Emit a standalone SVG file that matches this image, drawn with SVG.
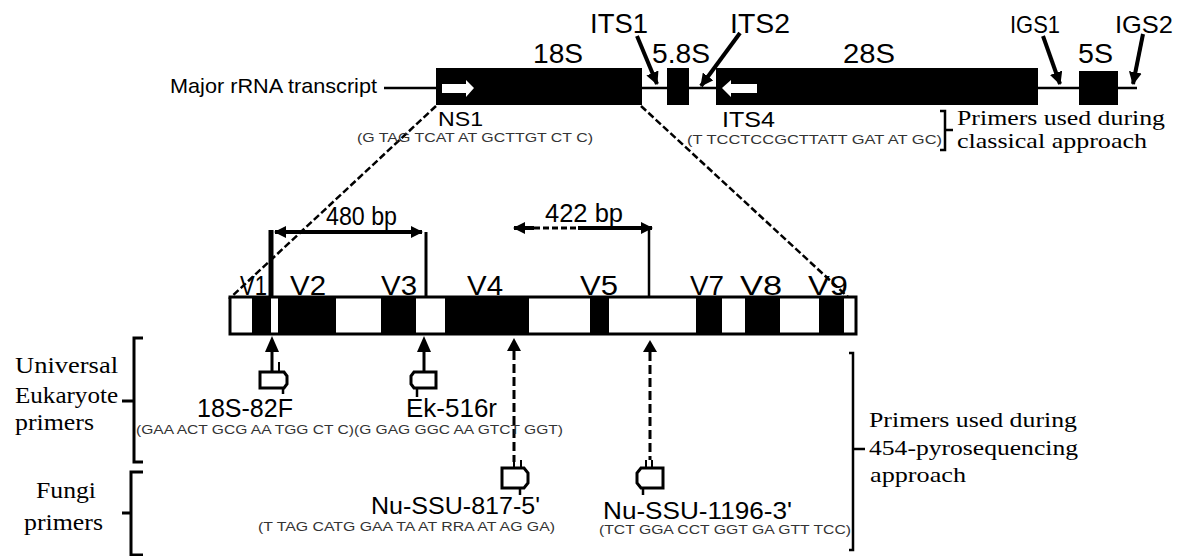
<svg xmlns="http://www.w3.org/2000/svg" width="1179" height="556" viewBox="0 0 1179 556">
<style>
.sans{font-family:"Liberation Sans",Arial,sans-serif;fill:#000}
.serif{font-family:"Liberation Serif","Times New Roman",serif;fill:#000}
.seq{font-family:"Liberation Sans",Arial,sans-serif;fill:#333;font-size:12px}
.ln{stroke:#000;fill:none}
.thick{stroke:#000;stroke-width:4;fill:none}
.dash{stroke:#000;stroke-width:3;fill:none;stroke-dasharray:9 4}
.diag{stroke:#000;stroke-width:2.5;fill:none;stroke-dasharray:7 3}
.blk{fill:#000}
.wh{fill:#fff}
.tag{fill:#fff;stroke:#000;stroke-width:3}
</style>
<defs>
<marker id="ah" viewBox="0 0 12 12" refX="11" refY="6" markerWidth="13" markerHeight="13" markerUnits="userSpaceOnUse" orient="auto">
<path d="M0,0 L12,6 L0,12 z" fill="#000"/>
</marker>
<marker id="ah2" viewBox="0 0 12 12" refX="11" refY="6" markerWidth="12" markerHeight="12" markerUnits="userSpaceOnUse" orient="auto-start-reverse">
<path d="M0,0 L12,6 L0,12 z" fill="#000"/>
</marker>
</defs>
<rect width="1179" height="556" fill="#fff"/>

<!-- connectors -->
<g id="connectors">
<line class="ln" x1="384" y1="88" x2="1137" y2="88" stroke-width="2.5"/>
<line class="thick" x1="637" y1="36" x2="657" y2="84" marker-end="url(#ah)"/>
<line class="thick" x1="740" y1="33" x2="701" y2="86" marker-end="url(#ah)"/>
<line class="thick" x1="1043" y1="36" x2="1060" y2="84" marker-end="url(#ah)"/>
<line class="thick" x1="1143" y1="34" x2="1133" y2="84" marker-end="url(#ah)"/>
<line class="diag" x1="436" y1="106" x2="229" y2="299"/>
<line class="diag" x1="641" y1="106" x2="848" y2="297"/>
<line class="thick" x1="275" y1="232" x2="422" y2="232" marker-start="url(#ah2)" marker-end="url(#ah2)"/>
<line class="ln" x1="271" y1="230" x2="271" y2="299" stroke-width="5"/>
<line class="ln" x1="426" y1="232" x2="426" y2="303" stroke-width="3"/>
<line class="ln" x1="514" y1="228" x2="534" y2="228" stroke-width="4" marker-start="url(#ah2)"/>
<line class="ln" x1="534" y1="228" x2="578" y2="228" stroke-width="3" stroke-dasharray="6 3"/>
<line class="ln" x1="578" y1="228" x2="652" y2="228" stroke-width="4" marker-end="url(#ah2)"/>
<line class="ln" x1="649" y1="230" x2="649" y2="303" stroke-width="2.5"/>
<!-- upward primer arrows -->
<path class="blk" d="M272,336 L279,352 L265,352 z"/>
<line class="ln" x1="272" y1="352" x2="272" y2="372" stroke-width="3"/>
<line class="ln" x1="279" y1="362" x2="279" y2="372" stroke-width="2"/>
<path class="blk" d="M424,336 L431,352 L417,352 z"/>
<line class="ln" x1="424" y1="352" x2="424" y2="372" stroke-width="3"/>
<path class="blk" d="M514,338 L521,351 L507,351 z"/>
<line class="dash" x1="514" y1="351" x2="514" y2="462"/>
<line class="ln" x1="514" y1="460" x2="514" y2="467" stroke-width="2"/>
<line class="ln" x1="521" y1="460" x2="521" y2="467" stroke-width="2"/>
<path class="blk" d="M650,340 L657,352 L643,352 z"/>
<line class="dash" x1="650" y1="352" x2="650" y2="460"/>
<line class="ln" x1="646" y1="460" x2="646" y2="467" stroke-width="2"/>
<line class="ln" x1="652" y1="460" x2="652" y2="467" stroke-width="2"/>
<!-- brackets -->
<path class="ln" stroke-width="2.5" d="M940,111 H945 V150 H940 M945,130 H953"/>
<path class="ln" stroke-width="3" d="M143,338 H134 V462 H143 M134,401 H122"/>
<path class="ln" stroke-width="3" d="M143,472 H131 V555 H143 M131,513 H122"/>
<path class="ln" stroke-width="2.5" d="M849,353 H853 V550 H849 M853,449 H865"/>
</g>

<!-- major transcript -->
<g id="major-transcript">
<text class="sans" x="170" y="93" font-size="21" textLength="207" lengthAdjust="spacingAndGlyphs">Major rRNA transcript</text>
</g>
<g id="n18S">
<rect class="blk" x="436" y="68" width="206" height="37"/>
<path class="wh" d="M442,84 H466 V80 L474,88 L466,97 V93 H442 z"/>
<text class="sans" x="533" y="63" font-size="28" textLength="50" lengthAdjust="spacingAndGlyphs">18S</text>
</g>
<g id="n58S">
<rect class="blk" x="667" y="68" width="22" height="37"/>
<text class="sans" x="652" y="63" font-size="28" textLength="58" lengthAdjust="spacingAndGlyphs">5.8S</text>
</g>
<g id="n28S">
<rect class="blk" x="716" y="68" width="322" height="37"/>
<path class="wh" d="M757,84 H731 V80 L722,88 L731,97 V93 H757 z"/>
<text class="sans" x="843" y="63" font-size="28" textLength="52" lengthAdjust="spacingAndGlyphs">28S</text>
</g>
<g id="n5S">
<rect class="blk" x="1079" y="71" width="39" height="34"/>
<text class="sans" x="1078" y="63" font-size="27" textLength="35" lengthAdjust="spacingAndGlyphs">5S</text>
</g>
<g id="its-labels">
<text class="sans" x="590" y="33" font-size="27" textLength="58" lengthAdjust="spacingAndGlyphs">ITS1</text>
<text class="sans" x="730" y="33" font-size="27" textLength="60" lengthAdjust="spacingAndGlyphs">ITS2</text>
<text class="sans" x="1010" y="33" font-size="24" textLength="50" lengthAdjust="spacingAndGlyphs">IGS1</text>
<text class="sans" x="1115" y="33" font-size="24" textLength="58" lengthAdjust="spacingAndGlyphs">IGS2</text>
</g>
<g id="primer-NS1">
<text class="sans" x="438" y="126" font-size="21" textLength="45" lengthAdjust="spacingAndGlyphs">NS1</text>
<text class="seq" x="357" y="142" textLength="236" lengthAdjust="spacingAndGlyphs">(G TAG TCAT AT GCTTGT CT C)</text>
</g>
<g id="primer-ITS4">
<text class="sans" x="722" y="127" font-size="22" textLength="53" lengthAdjust="spacingAndGlyphs">ITS4</text>
<text class="seq" x="687" y="144" textLength="255" lengthAdjust="spacingAndGlyphs">(T TCCTCCGCTTATT GAT AT GC)</text>
</g>
<g id="classical-label">
<text class="serif" x="957" y="125" font-size="21" textLength="208" lengthAdjust="spacingAndGlyphs">Primers used during</text>
<text class="serif" x="957" y="148" font-size="21" textLength="190" lengthAdjust="spacingAndGlyphs">classical approach</text>
</g>

<!-- V region bar -->
<g id="v-bar">
<rect x="230" y="297" width="626" height="37" fill="#fff"/>
<rect class="blk" x="252" y="297" width="19" height="37"/>
<rect class="blk" x="278" y="297" width="58" height="37"/>
<rect class="blk" x="381" y="297" width="35" height="37"/>
<rect class="blk" x="445" y="297" width="84" height="37"/>
<rect class="blk" x="590" y="297" width="19" height="37"/>
<rect class="blk" x="696" y="297" width="26" height="37"/>
<rect class="blk" x="745" y="297" width="35" height="37"/>
<rect class="blk" x="819" y="297" width="25" height="37"/>
<rect x="230" y="297" width="626" height="37" fill="none" stroke="#000" stroke-width="3"/>
<text class="sans" x="240" y="295" font-size="27" textLength="27" lengthAdjust="spacingAndGlyphs">V1</text>
<text class="sans" x="290" y="295" font-size="27" textLength="36" lengthAdjust="spacingAndGlyphs">V2</text>
<text class="sans" x="381" y="295" font-size="27" textLength="36" lengthAdjust="spacingAndGlyphs">V3</text>
<text class="sans" x="467" y="295" font-size="27" textLength="36" lengthAdjust="spacingAndGlyphs">V4</text>
<text class="sans" x="580" y="295" font-size="27" textLength="38" lengthAdjust="spacingAndGlyphs">V5</text>
<text class="sans" x="690" y="295" font-size="27" textLength="34" lengthAdjust="spacingAndGlyphs">V7</text>
<text class="sans" x="740" y="295" font-size="27" textLength="42" lengthAdjust="spacingAndGlyphs">V8</text>
<text class="sans" x="808" y="295" font-size="27" textLength="40" lengthAdjust="spacingAndGlyphs">V9</text>
</g>
<g id="len-labels">
<text class="sans" x="326" y="225" font-size="25" textLength="71" lengthAdjust="spacingAndGlyphs">480 bp</text>
<text class="sans" x="545" y="222" font-size="25" textLength="78" lengthAdjust="spacingAndGlyphs">422 bp</text>
</g>

<g id="primer-18S-82F">
<path class="tag" d="M260,372 H284 L287,376 V384 L284,388 H260 z"/>
<line class="ln" x1="283" y1="388" x2="283" y2="394" stroke-width="2.5"/>
<text class="sans" x="197" y="417" font-size="25" textLength="96" lengthAdjust="spacingAndGlyphs">18S-82F</text>
</g>
<g id="primer-Ek-516r">
<path class="tag" d="M414,372 H436 V388 H414 L411,384 V376 z"/>
<line class="ln" x1="417" y1="388" x2="417" y2="397" stroke-width="2.5"/>
<text class="sans" x="406" y="417" font-size="25" textLength="91" lengthAdjust="spacingAndGlyphs">Ek-516r</text>
</g>
<g id="seq-universal">
<text class="seq" x="136" y="434" textLength="427" lengthAdjust="spacingAndGlyphs">(GAA ACT GCG AA TGG CT C)(G GAG GGC AA GTCT GGT)</text>
</g>
<g id="primer-Nu-SSU-817">
<path class="tag" d="M502,468 H524 L528,473 V483 L524,488 H502 z"/>
<line class="ln" x1="520" y1="488" x2="520" y2="495" stroke-width="2.5"/>
<text class="sans" x="371" y="514" font-size="24" textLength="169" lengthAdjust="spacingAndGlyphs">Nu-SSU-817-5'</text>
<text class="seq" x="258" y="531" textLength="297" lengthAdjust="spacingAndGlyphs">(T TAG CATG GAA TA AT RRA AT AG GA)</text>
</g>
<g id="primer-Nu-SSU-1196">
<path class="tag" d="M641,468 H663 V488 H641 L637,483 V473 z"/>
<line class="ln" x1="643" y1="488" x2="643" y2="495" stroke-width="2.5"/>
<text class="sans" x="603" y="519" font-size="24" textLength="189" lengthAdjust="spacingAndGlyphs">Nu-SSU-1196-3'</text>
<text class="seq" x="599" y="534" textLength="252" lengthAdjust="spacingAndGlyphs">(TCT GGA CCT GGT GA GTT TCC)</text>
</g>
<g id="group-labels">
<text class="serif" x="15" y="373" font-size="23" textLength="103" lengthAdjust="spacingAndGlyphs">Universal</text>
<text class="serif" x="15" y="403" font-size="23" textLength="103" lengthAdjust="spacingAndGlyphs">Eukaryote</text>
<text class="serif" x="15" y="430" font-size="23" textLength="79" lengthAdjust="spacingAndGlyphs">primers</text>
<text class="serif" x="36" y="498" font-size="23" textLength="60" lengthAdjust="spacingAndGlyphs">Fungi</text>
<text class="serif" x="24" y="530" font-size="23" textLength="79" lengthAdjust="spacingAndGlyphs">primers</text>
<text class="serif" x="869" y="427" font-size="22" textLength="208" lengthAdjust="spacingAndGlyphs">Primers used during</text>
<text class="serif" x="869" y="455" font-size="22" textLength="209" lengthAdjust="spacingAndGlyphs">454-pyrosequencing</text>
<text class="serif" x="870" y="482" font-size="22" textLength="96" lengthAdjust="spacingAndGlyphs">approach</text>
</g>
</svg>
